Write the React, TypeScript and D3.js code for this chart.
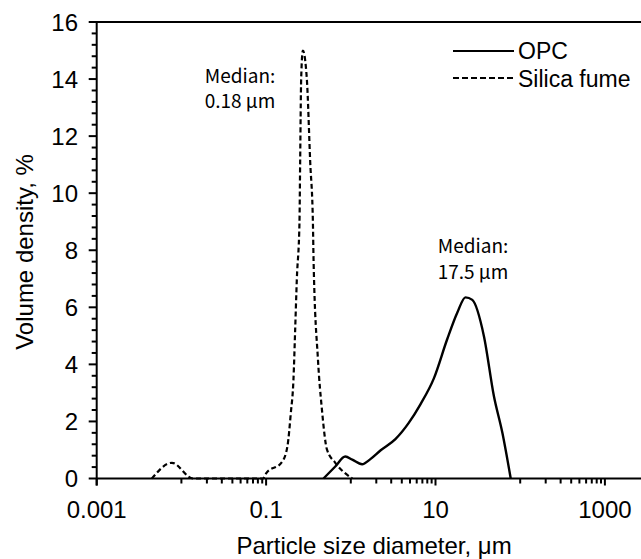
import React from "react";
import * as d3 from "d3";

const opcSize = [0.476, 0.656, 0.861, 1.042, 1.359, 1.703, 2.236, 3.362, 4.833, 6.64, 9.54, 13.74, 18.06, 22.6, 27.2, 37.3, 48.9, 61.6, 77.3];
const opcValue = [0, 0.42, 0.77, 0.66, 0.5, 0.68, 0.98, 1.38, 1.95, 2.6, 3.5, 4.88, 5.81, 6.35, 6.26, 4.99, 2.89, 1.6, 0];

const sfSize = [0.00448, 0.00773, 0.0137, 0.092, 0.1, 0.1535, 0.1786, 0.1959, 0.2104, 0.2203, 0.2307, 0.2477, 0.2524, 0.2594, 0.2716, 0.3027, 0.3316, 0.357, 0.3631, 0.4093, 0.456, 0.5226, 0.6561, 1.04];
const sfValue = [0, 0.55, 0, 0, 0.18, 0.57, 1.13, 2.3, 3.47, 5.2, 7.0, 8.97, 11.1, 14.0, 15.0, 14.0, 11.1, 8.97, 7.7, 4.18, 2.42, 1.02, 0.55, 0];

const xLabelTicks = [0.001, 0.1, 10, 1000];
const xLabelText = ["0.001", "0.1", "10", "1000"];
const yLabelTicks = [0, 2, 4, 6, 8, 10, 12, 14, 16];

const W = 641;
const H = 559;
const FONT = "'Liberation Sans', Arial, sans-serif";
const NOTE_FONT = "'Noto Sans CJK KR', 'Noto Sans', sans-serif";

export default function App() {
  const x = d3.scaleLog().domain([0.001, 10000]).range([96.7, 96.7 + 7 * 84.7]);
  const y = d3.scaleLinear().domain([0, 16]).range([478.5, 22]);

  const line = d3
    .line<[number, number]>()
    .x((d) => x(d[0]))
    .y((d) => y(d[1]))
    .curve(d3.curveMonotoneX);

  const opcPath = line(opcSize.map((s, i) => [s, opcValue[i]] as [number, number])) || "";
  const sfPath = line(sfSize.map((s, i) => [s, sfValue[i]] as [number, number])) || "";

  const xMinor: number[] = [];
  xLabelTicks.forEach((L) => {
    for (let m = 1; m <= 9; m++) xMinor.push(L * 10 * m);
  });

  const yMinor = d3.range(0, 16.001, 0.4).filter((v) => Math.abs(v / 2 - Math.round(v / 2)) > 0.01);

  const x0 = x(0.001);
  const y0 = y(0);
  const yTop = y(16);

  return (
    <svg
      width={W}
      height={H}
      style={{ position: "absolute", left: 0, top: 0, background: "#fff", overflow: "hidden" }}
    >
      <rect x={0} y={0} width={W} height={H} fill="#fff" />
      <path d={sfPath} fill="none" stroke="#000" strokeWidth={2.2} strokeDasharray="5,3" />
      <path d={opcPath} fill="none" stroke="#000" strokeWidth={2.4} />

      <line x1={x0} x2={W + 60} y1={yTop} y2={yTop} stroke="#000" strokeWidth={2} />
      <line x1={x0} x2={W + 60} y1={y0} y2={y0} stroke="#000" strokeWidth={2} />
      <line x1={x0} x2={x0} y1={yTop - 1} y2={y0 + 7} stroke="#000" strokeWidth={2} />

      {yLabelTicks.map((v) => (
        <g key={"yt" + v}>
          <line x1={x0 - 8} x2={x0} y1={y(v)} y2={y(v)} stroke="#000" strokeWidth={2} />
          <text x={78} y={y(v)} dy="0.36em" textAnchor="end" fontFamily={FONT} fontSize={24} fill="#000">
            {v}
          </text>
        </g>
      ))}
      {yMinor.map((v) => (
        <line key={"ym" + v} x1={x0 - 5} x2={x0} y1={y(v)} y2={y(v)} stroke="#000" strokeWidth={2} />
      ))}

      {xLabelTicks.map((v, i) => (
        <g key={"xt" + v}>
          <line x1={x(v)} x2={x(v)} y1={y0} y2={y0 + 7} stroke="#000" strokeWidth={2} />
          <text x={x(v)} y={518} textAnchor="middle" fontFamily={FONT} fontSize={24} fill="#000">
            {xLabelText[i]}
          </text>
        </g>
      ))}
      {xMinor.map((v) => (
        <line key={"xm" + v} x1={x(v)} x2={x(v)} y1={y0} y2={y0 + 5} stroke="#000" strokeWidth={2} />
      ))}

      <text x={374} y={554} textAnchor="middle" fontFamily={FONT} fontSize={24} fill="#000">
        Particle size diameter, μm
      </text>
      <text
        transform={`translate(33, 252) rotate(-90)`}
        textAnchor="middle"
        fontFamily={FONT}
        fontSize={24}
        fill="#000"
      >
        Volume density, %
      </text>

      <text x={240} y={83} textAnchor="middle" fontFamily={NOTE_FONT} fontSize={19} fill="#000">
        Median:
      </text>
      <text x={240} y={108} textAnchor="middle" fontFamily={NOTE_FONT} fontSize={19} fill="#000">
        0.18 μm
      </text>
      <text x={473} y={253} textAnchor="middle" fontFamily={NOTE_FONT} fontSize={19} fill="#000">
        Median:
      </text>
      <text x={473} y={279} textAnchor="middle" fontFamily={NOTE_FONT} fontSize={19} fill="#000">
        17.5 μm
      </text>

      <line x1={453} x2={514} y1={51} y2={51} stroke="#000" strokeWidth={2.2} />
      <text x={518} y={59} fontFamily={FONT} fontSize={23} fill="#000">
        OPC
      </text>
      <line x1={453} x2={514} y1={78} y2={78} stroke="#000" strokeWidth={2} strokeDasharray="6,3" />
      <text x={518} y={86.5} fontFamily={FONT} fontSize={23} fill="#000">
        Silica fume
      </text>
    </svg>
  );
}
